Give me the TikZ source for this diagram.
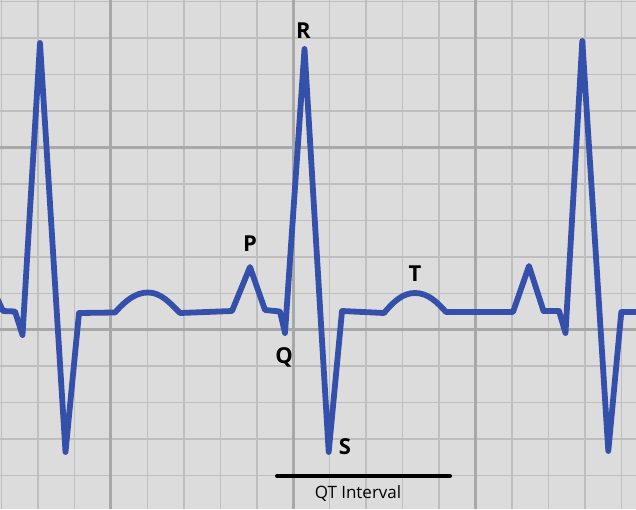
\documentclass[tikz,border=0pt]{standalone}
\usepackage{fontspec}
\newfontfamily\lblfont{Open Sans}
\definecolor{bgc}{RGB}{220,220,220}
\definecolor{minorc}{RGB}{190,190,190}
\definecolor{majorc}{RGB}{168,168,168}
\definecolor{ecgc}{RGB}{52,80,170}
\tikzset{
  minorline/.style={draw=minorc,line width=1.5pt},
  majorline/.style={draw=majorc,line width=3pt},
  trace/.style={draw=ecgc,line width=5.8pt,line join=round,line cap=round},
  wavelbl/.style={anchor=base,inner sep=0pt,font=\lblfont\bfseries\fontsize{22}{22}\selectfont,text=black},
  intlbl/.style={anchor=base,inner sep=0pt,font=\lblfont\fontsize{17}{17}\selectfont,text=black},
  intline/.style={draw=black,line width=4pt,line cap=round}
}
\begin{document}
\begin{tikzpicture}[x=1pt,y=-1pt]
\useasboundingbox (0,0) rectangle (636,509);
\begin{scope}
\clip (0,0) rectangle (636,509);
\fill[bgc] (0,0) rectangle (636,509);
% minor grid
\foreach \k in {0,...,17} {
  \pgfmathsetmacro{\xx}{1.6+36.45*\k}
  \draw[minorline] (\xx,0) -- (\xx,509);
}
\foreach \k in {0,...,13} {
  \pgfmathsetmacro{\yy}{1.7+36.45*\k}
  \draw[minorline] (0,\yy) -- (636,\yy);
}
% major grid
\foreach \k in {3,8,13} {
  \pgfmathsetmacro{\xx}{1.6+36.45*\k}
  \draw[majorline] (\xx,0) -- (\xx,509);
}
\foreach \k in {4,9} {
  \pgfmathsetmacro{\yy}{1.7+36.45*\k}
  \draw[majorline] (0,\yy) -- (636,\yy);
}
% ECG trace
\draw[trace]
  (-4,296) -- (3,311) -- (15,311.5) -- (22.5,335) -- (40,43) -- (65.5,452) -- (79,313)
  -- (115,312.5) .. controls (126,300) and (136,292.5) .. (148,292.5)
  .. controls (161,292.5) and (170,303) .. (180,313)
  -- (232,311) -- (250,267) -- (265,310) -- (280,311.5) -- (285,333)
  -- (304.5,49) -- (328.7,452) -- (342,311) -- (384,313)
  .. controls (394,301) and (403,293) .. (415,293)
  .. controls (428,293) and (437,302) .. (446,312)
  -- (513,312) -- (529,266) -- (543.5,311) -- (559,311) -- (565.5,333)
  -- (582.3,41) -- (608.3,451) -- (621.3,312) -- (640,312);
\end{scope}
% labels
\node[wavelbl] (lR) at (303.3,38.3) {R};
\node[wavelbl] (lP) at (250,251.7) {P};
\node[wavelbl] (lQ) at (284,363.3) {Q};
\node[wavelbl] (lS) at (345,454.8) {S};
\node[wavelbl] (lT) at (415,281.7) {T};
% QT interval
\coordinate (qtA) at (277,476);
\coordinate (qtB) at (450,476);
\draw[intline] (qtA) -- (qtB);
\node[intlbl] (lQT) at (358,498.3) {QT Interval};
\end{tikzpicture}
\end{document}
